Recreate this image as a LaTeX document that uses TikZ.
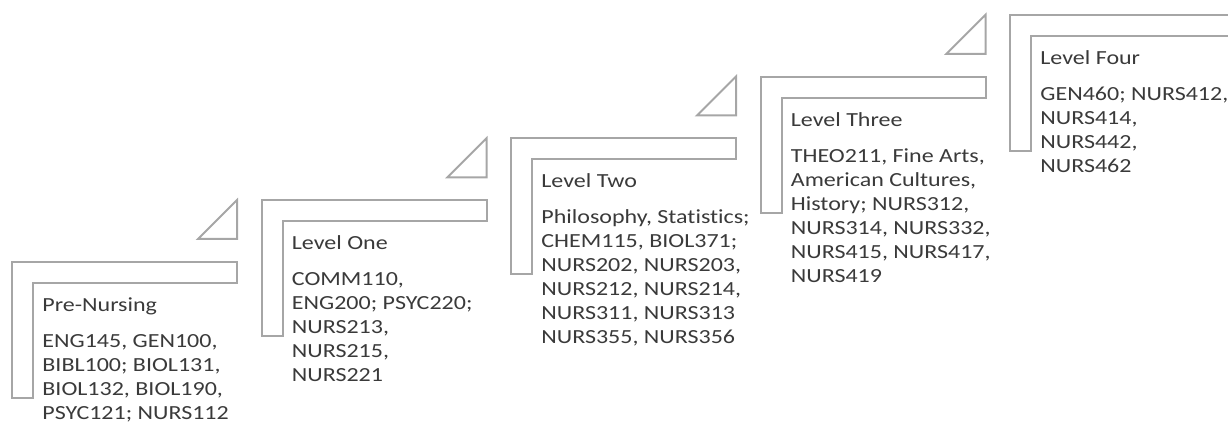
\documentclass[tikz,border=0pt]{standalone}
\usepackage{fontspec}
\setmainfont{Carlito}[FakeStretch=1.2, Ligatures=NoCommon]
\definecolor{lineagrigia}{HTML}{A6A6A6}
\definecolor{testogrigio}{HTML}{3A3A3A}
\begin{document}
\begin{tikzpicture}[x=0.5pt, y=-0.5pt,
  bracket/.style={draw=lineagrigia, line width=1pt, line join=miter},
  leveltext/.style={anchor=north west, inner sep=0pt, align=left, text=testogrigio,
    font=\fontsize{10pt}{12pt}\selectfont}]
\clip (0,0) rectangle (1228,431);

% Pre-Nursing
\draw[bracket] (12,262) -- ++(225,0) -- ++(0,21) -- ++(-204,0) -- ++(0,115) -- ++(-21,0) -- cycle;
\draw[bracket] (198,239) -- ++(39,-39) -- ++(0,39) -- cycle;
\node[leveltext] (pre) at (42,297) {Pre-Nursing\\[6pt]
  ENG145, GEN100,\\ BIBL100; BIOL131,\\ BIOL132, BIOL190,\\ PSYC121; NURS112};

% Level One
\draw[bracket] (261.5,200.3) -- ++(225,0) -- ++(0,21) -- ++(-204,0) -- ++(0,115) -- ++(-21,0) -- cycle;
\draw[bracket] (447.5,177.3) -- ++(39,-39) -- ++(0,39) -- cycle;
\node[leveltext] (one) at (291.5,235.3) {Level One\\[6pt]
  COMM110,\\ ENG200; PSYC220;\\ NURS213,\\ NURS215,\\ NURS221};

% Level Two
\draw[bracket] (511,138.5) -- ++(225,0) -- ++(0,21) -- ++(-204,0) -- ++(0,115) -- ++(-21,0) -- cycle;
\draw[bracket] (697,115.5) -- ++(39,-39) -- ++(0,39) -- cycle;
\node[leveltext] (two) at (541,173.5) {Level Two\\[6pt]
  Philosophy, Statistics;\\ CHEM115, BIOL371;\\ NURS202, NURS203,\\ NURS212, NURS214,\\ NURS311, NURS313\\ NURS355, NURS356};

% Level Three
\draw[bracket] (760.5,76.8) -- ++(225,0) -- ++(0,21) -- ++(-204,0) -- ++(0,115) -- ++(-21,0) -- cycle;
\draw[bracket] (946.5,53.8) -- ++(39,-39) -- ++(0,39) -- cycle;
\node[leveltext] (three) at (790.5,111.8) {Level Three\\[6pt]
  THEO211, Fine Arts,\\ American Cultures,\\ History; NURS312,\\ NURS314, NURS332,\\ NURS415, NURS417,\\ NURS419};

% Level Four (tagliato a destra)
\draw[bracket] (1010,15) -- ++(225,0) -- ++(0,21) -- ++(-204,0) -- ++(0,115) -- ++(-21,0) -- cycle;
\draw[bracket] (1196,-8) -- ++(39,-39) -- ++(0,39) -- cycle;
\node[leveltext] (four) at (1040,50) {Level Four\\[6pt]
  GEN460; NURS412,\\ NURS414,\\ NURS442,\\ NURS462};
\end{tikzpicture}
\end{document}
